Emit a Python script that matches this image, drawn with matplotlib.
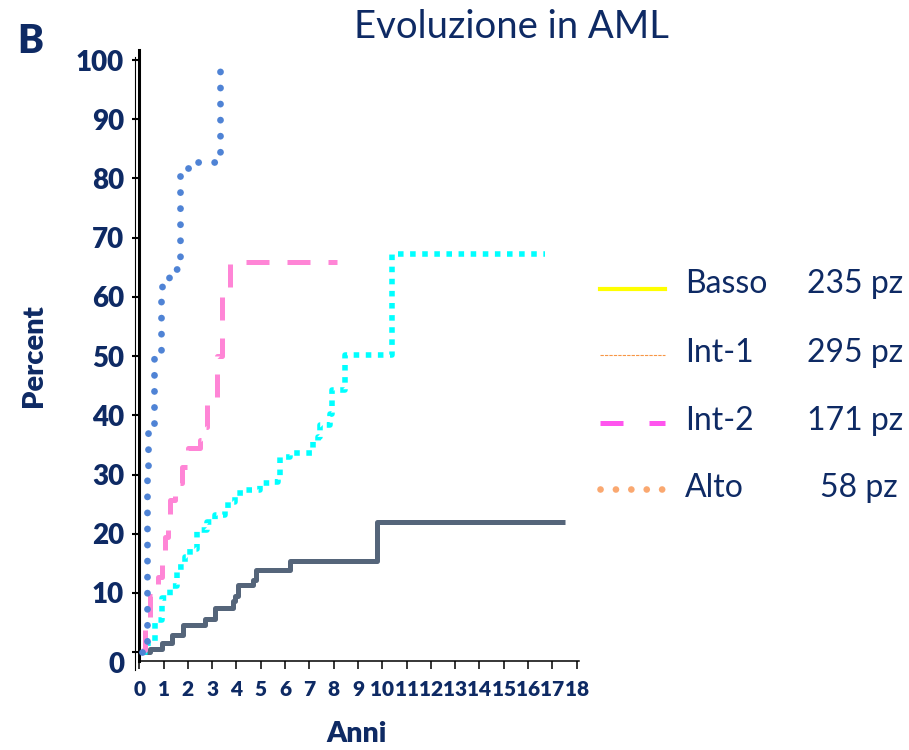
import matplotlib
matplotlib.use("Agg")
import matplotlib.pyplot as plt
from matplotlib.lines import Line2D
from matplotlib.transforms import ScaledTranslation

# cumulative evolution to AML (%) by risk group, step points (anni, percent)
basso_t = [0.16, 0.44, 0.92, 1.33, 1.81, 2.70, 3.12, 3.85, 3.92, 4.07, 4.69, 4.80, 6.20, 9.77, 17.5]
basso_pct = [0.0, 0.5, 1.6, 2.9, 4.6, 5.6, 7.4, 8.6, 9.5, 11.3, 12.2, 13.8, 15.4, 22.0, 22.0]

int1_t = [0.10, 0.37, 0.65, 0.92, 1.26, 1.54, 1.88, 2.09, 2.36, 2.77, 3.12, 3.53, 3.66, 3.94,
          4.28, 4.97, 5.45, 5.72, 5.79, 6.20, 7.16, 7.37, 7.44, 7.85, 7.92, 8.46, 10.39, 16.7]
int1_pct = [0.0, 1.8, 5.4, 9.1, 11.1, 14.4, 16.1, 17.5, 20.6, 22.0, 23.2, 24.3, 25.4, 26.8,
            27.4, 28.6, 28.8, 29.6, 33.0, 33.6, 35.5, 36.4, 38.4, 40.3, 44.3, 50.2, 67.2, 67.2]

int2_t = [0.10, 0.23, 0.44, 0.78, 0.92, 1.06, 1.19, 1.26, 1.47, 1.74, 2.02, 2.50, 2.63, 2.77,
          3.12, 3.19, 3.39, 3.66, 3.73, 8.12]
int2_pct = [0.4, 5.4, 9.4, 12.7, 16.1, 19.5, 22.3, 25.7, 28.5, 31.3, 34.4, 35.8, 38.1, 41.7,
            42.0, 50.0, 60.0, 60.3, 65.9, 65.9]

alto_t = [0.10, 0.30, 0.37, 0.60, 0.89, 0.95, 1.24, 1.67, 2.06, 2.73, 3.32]
alto_pct = [0.0, 29.1, 37.0, 49.9, 60.1, 62.9, 64.7, 81.7, 82.7, 82.8, 99.6]

groups = ["Basso", "Int-1", "Int-2", "Alto"]
n_pz = ["235 pz", "295 pz", "171 pz", "58 pz"]

x_ticks = list(range(0, 19))
y_ticks = list(range(0, 101, 10))

navy = "#0E2A64"
plt.rcParams["font.family"] = ["Lato", "DejaVu Sans"]

W, H = 909, 750
fig = plt.figure(figsize=(W / 100, H / 100), dpi=100)
ax = fig.add_axes([139.3 / W, (H - 660.7) / H, (579.1 - 139.3) / W, (660.7 - 50) / H])

ax.step(basso_t, basso_pct, where="post", color="#55657A", lw=3.6,
        solid_joinstyle="round", solid_capstyle="butt", zorder=3)
ax.step(int1_t, int1_pct, where="post", color="#00FFFF", lw=4.0,
        linestyle=(0, (1.0, 1.18)), dash_capstyle="butt", zorder=4)
ax.step(int2_t, int2_pct, where="post", color="#FF85D6", lw=3.6,
        linestyle=(0, (4.6, 3.6)), dash_capstyle="butt", zorder=5)
ax.step(alto_t, alto_pct, where="post", color="#4F83D5", lw=4.9,
        linestyle=(0, (0.01, 2.35)), dash_capstyle="round", zorder=6)

ax.set_xlim(0, 18.1)
ax.set_ylim(-1.45, 101.7)
ax.set_xticks(x_ticks)
ax.set_yticks(y_ticks)

for s in ["top", "right"]:
    ax.spines[s].set_visible(False)
ax.spines["left"].set_linewidth(2.2)
ax.spines["bottom"].set_linewidth(1.1)

ax.tick_params(axis="x", direction="out", length=6, width=1.1, pad=8,
               labelsize=15, labelcolor=navy)
ax.tick_params(axis="y", direction="out", length=5, width=1.5, pad=6,
               labelsize=20, labelcolor=navy)
for lab in ax.get_xticklabels() + ax.get_yticklabels():
    lab.set_fontweight("heavy")

# the zero label sits a little lower than its tick
zero = ax.yaxis.get_major_ticks()[0].label1
zero.set_transform(zero.get_transform() + ScaledTranslation(0, -10 / 100, fig.dpi_scale_trans))

# thin companion line next to the y axis
fig.add_artist(Line2D([134.5 / W] * 2, [1 - 57 / H, 1 - 670 / H], transform=fig.transFigure,
                      lw=0.8, color="black"))

fig.text(511.5 / W, 1 - 38 / H, "Evoluzione in AML", fontsize=27.5, color=navy,
         ha="center", va="baseline")
fig.text(17 / W, 1 - 53 / H, "B", fontsize=28, fontweight="heavy", color=navy,
         ha="left", va="baseline")
fig.text(42 / W, 1 - 356 / H, "Percent", fontsize=21, fontweight="heavy", color=navy,
         rotation=90, rotation_mode="anchor", ha="center", va="baseline")
fig.text(356.7 / W, 1 - 742 / H, "Anni", fontsize=20.5, fontweight="heavy", color=navy,
         ha="center", va="baseline")

# legend drawn by hand: sample line, group name, patient count
rows_y = [289, 355, 423, 489]
base_y = [293, 362, 430, 497]
samples = [
    dict(color="#FFFF00", lw=3.0, linestyle="-"),
    dict(color="#F79646", lw=0.8, linestyle=(0, (3, 1))),
    dict(color="#FF55EE", lw=3.6, linestyle=(0, (4.6, 5.2))),
    dict(color="#FAA870", lw=4.8, linestyle=(0, (0.01, 2.3)), dash_capstyle="round"),
]
count_x = [806.7, 806.7, 806.7, 820]
for i in range(4):
    fig.add_artist(Line2D([600 / W, 665 / W], [1 - rows_y[i] / H] * 2,
                          transform=fig.transFigure, **samples[i]))
    fig.text(685 / W, 1 - base_y[i] / H, groups[i], fontsize=23, color=navy,
             ha="left", va="baseline")
    fig.text(count_x[i] / W, 1 - base_y[i] / H, n_pz[i], fontsize=23, color=navy,
             ha="left", va="baseline")

fig.savefig("out.png", dpi=100, facecolor="white")
